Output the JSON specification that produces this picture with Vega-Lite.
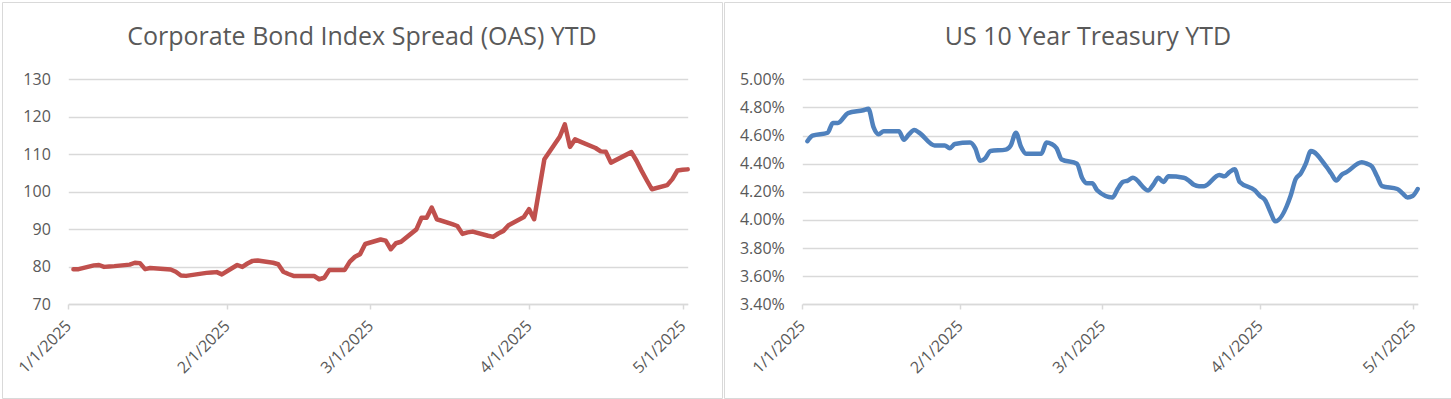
{
  "$schema": "https://vega.github.io/schema/vega-lite/v6.json",
  "background": "white",
  "padding": {"left": 1, "top": 1, "right": 0, "bottom": 0},
  "spacing": 0,
  "config": {
    "view": {"stroke": "#d9d9d9", "strokeWidth": 1},
    "font": "Open Sans",
    "axis": {"labelFont": "Open Sans", "labelFontSize": 16, "labelColor": "#595959", "title": null, "gridColor": "#d9d9d9", "gridWidth": 1.5, "domainColor": "#d9d9d9", "tickColor": "#d9d9d9", "minExtent": 0, "maxExtent": 400},
    "title": {"font": "Open Sans", "fontSize": 25, "fontWeight": "normal", "color": "#595959", "anchor": "middle", "frame": "group", "baseline": "alphabetic", "offset": -48}
  },
  "hconcat": [
    {
      "width": 720,
      "height": 396,
      "title": {"text": "Corporate Bond Index Spread (OAS) YTD"},
      "data": {"values": [
        {"date": "2025-01-02", "value": 79.3}, {"date": "2025-01-03", "value": 79.3},
        {"date": "2025-01-06", "value": 80.3}, {"date": "2025-01-07", "value": 80.4},
        {"date": "2025-01-08", "value": 79.9}, {"date": "2025-01-09", "value": 80.0},
        {"date": "2025-01-10", "value": 80.1}, {"date": "2025-01-13", "value": 80.5},
        {"date": "2025-01-14", "value": 81.0}, {"date": "2025-01-15", "value": 80.9},
        {"date": "2025-01-16", "value": 79.3}, {"date": "2025-01-17", "value": 79.6},
        {"date": "2025-01-21", "value": 79.2}, {"date": "2025-01-22", "value": 78.6},
        {"date": "2025-01-23", "value": 77.6}, {"date": "2025-01-24", "value": 77.5},
        {"date": "2025-01-27", "value": 78.1}, {"date": "2025-01-28", "value": 78.3},
        {"date": "2025-01-29", "value": 78.4}, {"date": "2025-01-30", "value": 78.5},
        {"date": "2025-01-31", "value": 77.9}, {"date": "2025-02-03", "value": 80.4},
        {"date": "2025-02-04", "value": 79.9}, {"date": "2025-02-05", "value": 80.8},
        {"date": "2025-02-06", "value": 81.5}, {"date": "2025-02-07", "value": 81.6},
        {"date": "2025-02-10", "value": 81.0}, {"date": "2025-02-11", "value": 80.6},
        {"date": "2025-02-12", "value": 78.6}, {"date": "2025-02-13", "value": 78.0},
        {"date": "2025-02-14", "value": 77.5}, {"date": "2025-02-18", "value": 77.5},
        {"date": "2025-02-19", "value": 76.6}, {"date": "2025-02-20", "value": 77.0},
        {"date": "2025-02-21", "value": 79.1}, {"date": "2025-02-24", "value": 79.1},
        {"date": "2025-02-25", "value": 81.3}, {"date": "2025-02-26", "value": 82.6},
        {"date": "2025-02-27", "value": 83.3}, {"date": "2025-02-28", "value": 86.0},
        {"date": "2025-03-03", "value": 87.2}, {"date": "2025-03-04", "value": 86.9},
        {"date": "2025-03-05", "value": 84.6}, {"date": "2025-03-06", "value": 86.2},
        {"date": "2025-03-07", "value": 86.6}, {"date": "2025-03-10", "value": 89.9},
        {"date": "2025-03-11", "value": 93.0}, {"date": "2025-03-12", "value": 93.0},
        {"date": "2025-03-13", "value": 95.7}, {"date": "2025-03-14", "value": 92.6},
        {"date": "2025-03-17", "value": 91.3}, {"date": "2025-03-18", "value": 90.8},
        {"date": "2025-03-19", "value": 88.7}, {"date": "2025-03-20", "value": 89.1},
        {"date": "2025-03-21", "value": 89.3}, {"date": "2025-03-24", "value": 88.2},
        {"date": "2025-03-25", "value": 87.9}, {"date": "2025-03-26", "value": 88.8},
        {"date": "2025-03-27", "value": 89.5}, {"date": "2025-03-28", "value": 91.0},
        {"date": "2025-03-31", "value": 93.2}, {"date": "2025-04-01", "value": 95.3},
        {"date": "2025-04-02", "value": 92.6}, {"date": "2025-04-03", "value": 100.6},
        {"date": "2025-04-04", "value": 108.6}, {"date": "2025-04-07", "value": 114.6},
        {"date": "2025-04-08", "value": 117.9}, {"date": "2025-04-09", "value": 111.9},
        {"date": "2025-04-10", "value": 113.9}, {"date": "2025-04-11", "value": 113.3},
        {"date": "2025-04-14", "value": 111.6}, {"date": "2025-04-15", "value": 110.7},
        {"date": "2025-04-16", "value": 110.6}, {"date": "2025-04-17", "value": 107.7},
        {"date": "2025-04-21", "value": 110.5}, {"date": "2025-04-22", "value": 108.2},
        {"date": "2025-04-23", "value": 105.5}, {"date": "2025-04-24", "value": 103.0},
        {"date": "2025-04-25", "value": 100.6}, {"date": "2025-04-28", "value": 101.7},
        {"date": "2025-04-29", "value": 103.3}, {"date": "2025-04-30", "value": 105.6},
        {"date": "2025-05-01", "value": 105.8}, {"date": "2025-05-02", "value": 105.9}
      ]},
      "mark": {"type": "line", "color": "#C0504D", "strokeWidth": 4.5, "strokeCap": "round", "strokeJoin": "round"},
      "encoding": {
        "x": {
          "field": "date", "type": "temporal",
          "scale": {"type": "utc", "domain": [1735689600000, 1746144000000], "range": [66.3, 685.7]},
          "axis": {"values": [1735689600000, 1738368000000, 1740787200000, 1743465600000, 1746057600000], "labelExpr": "utcFormat(datum.value, '%-m/%-d/%Y')", "labelAngle": -45, "labelAlign": "right", "labelBaseline": "middle", "labelPadding": 14, "tickSize": 5, "tickWidth": 1.5, "domainWidth": 1.5, "grid": false, "offset": -94, "labelFlush": false, "labelOverlap": false, "labelBound": false}
        },
        "y": {
          "field": "value", "type": "quantitative",
          "scale": {"domain": [70, 130], "range": [302, 77], "zero": false, "nice": false},
          "axis": {"values": [70, 80, 90, 100, 110, 120, 130], "grid": true, "ticks": false, "tickSize": 0, "domain": false, "offset": -66.3, "labelPadding": 18}
        }
      }
    },
    {
      "width": 728,
      "height": 396,
      "title": {"text": "US 10 Year Treasury YTD"},
      "data": {"values": [
        {"date": "2025-01-02", "value": 4.56}, {"date": "2025-01-03", "value": 4.60},
        {"date": "2025-01-06", "value": 4.62}, {"date": "2025-01-07", "value": 4.69},
        {"date": "2025-01-08", "value": 4.69}, {"date": "2025-01-10", "value": 4.76},
        {"date": "2025-01-13", "value": 4.78}, {"date": "2025-01-14", "value": 4.79},
        {"date": "2025-01-15", "value": 4.66}, {"date": "2025-01-16", "value": 4.61},
        {"date": "2025-01-17", "value": 4.63}, {"date": "2025-01-20", "value": 4.63},
        {"date": "2025-01-21", "value": 4.57}, {"date": "2025-01-22", "value": 4.61},
        {"date": "2025-01-23", "value": 4.64}, {"date": "2025-01-24", "value": 4.62},
        {"date": "2025-01-27", "value": 4.53}, {"date": "2025-01-28", "value": 4.53},
        {"date": "2025-01-29", "value": 4.53}, {"date": "2025-01-30", "value": 4.51},
        {"date": "2025-01-31", "value": 4.54}, {"date": "2025-02-03", "value": 4.55},
        {"date": "2025-02-04", "value": 4.51}, {"date": "2025-02-05", "value": 4.42},
        {"date": "2025-02-06", "value": 4.44}, {"date": "2025-02-07", "value": 4.49},
        {"date": "2025-02-10", "value": 4.50}, {"date": "2025-02-11", "value": 4.53},
        {"date": "2025-02-12", "value": 4.62}, {"date": "2025-02-13", "value": 4.52},
        {"date": "2025-02-14", "value": 4.47}, {"date": "2025-02-17", "value": 4.47},
        {"date": "2025-02-18", "value": 4.55}, {"date": "2025-02-19", "value": 4.54},
        {"date": "2025-02-20", "value": 4.51}, {"date": "2025-02-21", "value": 4.43},
        {"date": "2025-02-24", "value": 4.40}, {"date": "2025-02-25", "value": 4.30},
        {"date": "2025-02-26", "value": 4.26}, {"date": "2025-02-27", "value": 4.26},
        {"date": "2025-02-28", "value": 4.21}, {"date": "2025-03-03", "value": 4.16},
        {"date": "2025-03-04", "value": 4.22}, {"date": "2025-03-05", "value": 4.27},
        {"date": "2025-03-06", "value": 4.28}, {"date": "2025-03-07", "value": 4.30},
        {"date": "2025-03-10", "value": 4.21}, {"date": "2025-03-11", "value": 4.25},
        {"date": "2025-03-12", "value": 4.30}, {"date": "2025-03-13", "value": 4.27},
        {"date": "2025-03-14", "value": 4.31}, {"date": "2025-03-17", "value": 4.30},
        {"date": "2025-03-18", "value": 4.28}, {"date": "2025-03-19", "value": 4.25},
        {"date": "2025-03-20", "value": 4.24}, {"date": "2025-03-21", "value": 4.24},
        {"date": "2025-03-24", "value": 4.32}, {"date": "2025-03-25", "value": 4.31},
        {"date": "2025-03-26", "value": 4.34}, {"date": "2025-03-27", "value": 4.36},
        {"date": "2025-03-28", "value": 4.27}, {"date": "2025-03-31", "value": 4.21},
        {"date": "2025-04-01", "value": 4.17}, {"date": "2025-04-02", "value": 4.14},
        {"date": "2025-04-03", "value": 4.06}, {"date": "2025-04-04", "value": 3.99},
        {"date": "2025-04-07", "value": 4.17}, {"date": "2025-04-08", "value": 4.29},
        {"date": "2025-04-09", "value": 4.33}, {"date": "2025-04-10", "value": 4.40},
        {"date": "2025-04-11", "value": 4.49}, {"date": "2025-04-14", "value": 4.38},
        {"date": "2025-04-15", "value": 4.33}, {"date": "2025-04-16", "value": 4.28},
        {"date": "2025-04-17", "value": 4.32}, {"date": "2025-04-18", "value": 4.34},
        {"date": "2025-04-21", "value": 4.41}, {"date": "2025-04-22", "value": 4.40},
        {"date": "2025-04-23", "value": 4.38}, {"date": "2025-04-24", "value": 4.31},
        {"date": "2025-04-25", "value": 4.24}, {"date": "2025-04-28", "value": 4.22},
        {"date": "2025-04-29", "value": 4.19}, {"date": "2025-04-30", "value": 4.16},
        {"date": "2025-05-01", "value": 4.17}, {"date": "2025-05-02", "value": 4.22}
      ]},
      "mark": {"type": "line", "color": "#4F81BD", "strokeWidth": 4.5, "strokeCap": "round", "strokeJoin": "round", "interpolate": "monotone"},
      "encoding": {
        "x": {
          "field": "date", "type": "temporal",
          "scale": {"type": "utc", "domain": [1735689600000, 1746144000000], "range": [78.3, 693.7]},
          "axis": {"values": [1735689600000, 1738368000000, 1740787200000, 1743465600000, 1746057600000], "labelExpr": "utcFormat(datum.value, '%-m/%-d/%Y')", "labelAngle": -45, "labelAlign": "right", "labelBaseline": "middle", "labelPadding": 14, "tickSize": 5, "tickWidth": 1.5, "domainWidth": 1.5, "grid": false, "offset": -94, "labelFlush": false, "labelOverlap": false, "labelBound": false}
        },
        "y": {
          "field": "value", "type": "quantitative",
          "scale": {"domain": [3.4, 5.0], "range": [302.3, 77.3], "zero": false, "nice": false},
          "axis": {"values": [3.4, 3.6, 3.8, 4.0, 4.2, 4.4, 4.6, 4.8, 5.0], "labelExpr": "format(datum.value, '.2f') + '%'", "grid": true, "ticks": false, "tickSize": 0, "domain": false, "offset": -78.3, "labelPadding": 18}
        }
      }
    }
  ]
}
